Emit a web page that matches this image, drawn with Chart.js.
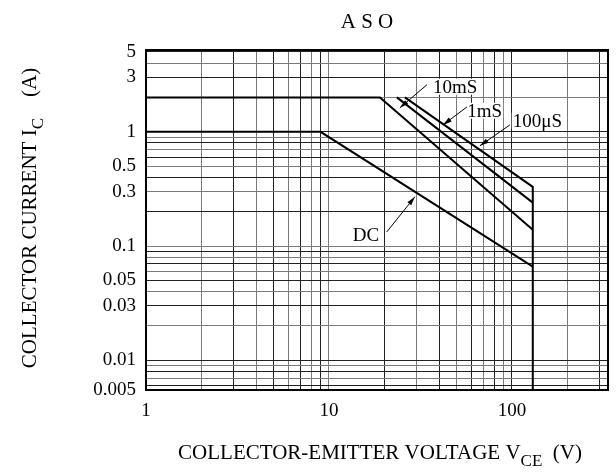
<!DOCTYPE html>
<html>
<head>
<meta charset="utf-8">
<script src="https://cdn.jsdelivr.net/npm/chart.js@4.4.0/dist/chart.umd.min.js"></script>
<style>
  html, body { margin: 0; padding: 0; background: #fff; }
  #wrap { width: 616px; height: 474px; }
</style>
</head>
<body>
<div id="wrap"><canvas id="aso"></canvas></div>
<script>
/* ---- axis grid + tick labels ---- */
var xGrid = [1, 2, 3, 4, 5, 6, 7, 8, 9, 10, 20, 30, 40, 50, 60, 70, 80, 90, 100, 200, 300];
var xLabelValues = [1, 10, 100];
var xLabelText = ['1', '10', '100'];

var yGrid = [5, 4, 3, 2, 1, 0.9, 0.8, 0.7, 0.6, 0.5, 0.4, 0.3, 0.2,
             0.1, 0.09, 0.08, 0.07, 0.06, 0.05, 0.04, 0.03, 0.02,
             0.01, 0.009, 0.008, 0.007, 0.006, 0.005];
var yLabelValues = [5, 3, 1, 0.5, 0.3, 0.1, 0.05, 0.03, 0.01, 0.005];
var yLabelText = ['5', '3', '1', '0.5', '0.3', '0.1', '0.05', '0.03', '0.01', '0.005'];

/* ---- safe operating area curves (V, A) ---- */
var dcV = [1, 9, 130];
var dcI = [1, 1, 0.066];
var ms10V = [1, 19, 130];
var ms10I = [2, 2, 0.139];
var ms1V = [23.5, 130];
var ms1I = [2, 0.24];
var us100V = [26, 130, 130];
var us100I = [2, 0.33, 0.005];

/* ---- curve labels + arrows (data coords) ---- */
var noteText = ['10mS', '1mS', '100\u03bcS', 'DC'];
var noteV = [37, 57, 101, 13.5];
var noteI = [2.48, 1.53, 1.25, 0.1256];
var arrowFromV = [34.3, 56.8, 97.5, 20.7];
var arrowFromI = [2.58, 1.65, 1.15, 0.133];
var arrowToV = [24.4, 42.0, 66.8, 29.5];
var arrowToI = [1.62, 1.15, 0.754, 0.270];

var SERIF = '"Liberation Serif", "Times New Roman", serif';

function pts(vs, is) {
  return vs.map(function(v, i) { return { x: v, y: is[i] }; });
}

function curve(vs, is) {
  return {
    data: pts(vs, is),
    borderColor: '#000',
    borderWidth: 2,
    pointRadius: 0,
    fill: false,
    tension: 0
  };
}

function gridColor(ctx) {
  return ctx.index % 2 ? '#7a7a7a' : '#222';
}

/* draws text runs (main text + subscripts) centred on cx,cy */
function drawRuns(ctx, runs, cx, cy, rot) {
  ctx.save();
  ctx.translate(cx, cy);
  if (rot) ctx.rotate(rot);
  var total = 0;
  runs.forEach(function(r) {
    ctx.font = r[1] + 'px ' + SERIF;
    total += ctx.measureText(r[0]).width;
  });
  var x = -total / 2;
  ctx.textBaseline = 'alphabetic';
  ctx.textAlign = 'left';
  runs.forEach(function(r) {
    ctx.font = r[1] + 'px ' + SERIF;
    ctx.fillText(r[0], x, r[2]);
    x += ctx.measureText(r[0]).width;
  });
  ctx.restore();
}

function arrow(ctx, x1, y1, x2, y2) {
  var ang = Math.atan2(y2 - y1, x2 - x1);
  ctx.beginPath();
  ctx.moveTo(x1, y1);
  ctx.lineTo(x2, y2);
  ctx.lineWidth = 1;
  ctx.stroke();
  ctx.beginPath();
  ctx.moveTo(x2, y2);
  ctx.lineTo(x2 - 9 * Math.cos(ang) + 2.5 * Math.sin(ang), y2 - 9 * Math.sin(ang) - 2.5 * Math.cos(ang));
  ctx.lineTo(x2 - 9 * Math.cos(ang) - 2.5 * Math.sin(ang), y2 - 9 * Math.sin(ang) + 2.5 * Math.cos(ang));
  ctx.closePath();
  ctx.fill();
}

var decor = {
  id: 'decor',
  afterDraw: function(chart) {
    var ctx = chart.ctx, a = chart.chartArea;
    var xs = chart.scales.x, ys = chart.scales.y;
    ctx.save();
    ctx.strokeStyle = '#000';
    ctx.fillStyle = '#000';
    ctx.lineWidth = 2;
    ctx.strokeRect(a.left, a.top, a.right - a.left, a.bottom - a.top);

    /* curve labels */
    ctx.font = '19px ' + SERIF;
    ctx.textBaseline = 'middle';
    ctx.textAlign = 'left';
    noteText.forEach(function(t, i) {
      var px = xs.getPixelForValue(noteV[i]);
      var py = ys.getPixelForValue(noteI[i]);
      ctx.fillStyle = '#fff';
      ctx.fillRect(px - 1, py - 8, ctx.measureText(t).width + 2, 16);
      ctx.fillStyle = '#000';
      ctx.fillText(t, px, py + 1);
    });
    arrowFromV.forEach(function(v, i) {
      arrow(ctx,
        xs.getPixelForValue(v), ys.getPixelForValue(arrowFromI[i]),
        xs.getPixelForValue(arrowToV[i]), ys.getPixelForValue(arrowToI[i]));
    });

    /* titles */
    drawRuns(ctx, [['A S O', 21, 0]], 367, 28, 0);
    drawRuns(ctx, [['COLLECTOR-EMITTER VOLTAGE V', 21, 0], ['CE', 17, 7], ['  (V)', 21, 0]], 380, 459, 0);
    drawRuns(ctx, [['COLLECTOR CURRENT I', 21, 0], ['C', 17, 7], ['    (A)', 21, 0]], 36, 218, -Math.PI / 2);
    ctx.restore();
  }
};

new Chart(document.getElementById('aso'), {
  type: 'line',
  data: {
    datasets: [
      curve(dcV, dcI),
      curve(ms10V, ms10I),
      curve(ms1V, ms1I),
      curve(us100V, us100I)
    ]
  },
  options: {
    responsive: true,
    maintainAspectRatio: false,
    animation: false,
    layout: { padding: { top: 50, right: 8, left: 0, bottom: 0 } },
    plugins: { legend: { display: false }, tooltip: { enabled: false } },
    scales: {
      x: {
        type: 'logarithmic',
        min: 1,
        max: 335,
        afterFit: function(s) { s.height = 84; },
        afterBuildTicks: function(s) {
          s.ticks = xGrid.map(function(v) { return { value: v }; });
        },
        grid: { color: gridColor, lineWidth: 1, drawTicks: false },
        border: { display: true, color: '#000', width: 2 },
        ticks: {
          autoSkip: false,
          maxRotation: 0,
          padding: 10,
          color: '#000',
          font: { family: SERIF, size: 19 },
          callback: function(val, idx) {
            var k = xLabelValues.indexOf(xGrid[idx]);
            return k < 0 ? '' : xLabelText[k];
          }
        }
      },
      y: {
        type: 'logarithmic',
        min: 0.0055,
        max: 5.2,
        afterFit: function(s) { s.width = 146; },
        afterBuildTicks: function(s) {
          s.ticks = yGrid.map(function(v) {
            return { value: Math.min(Math.max(v, s.min), s.max) };
          });
        },
        grid: { color: gridColor, lineWidth: 1, drawTicks: false },
        border: { display: true, color: '#000', width: 2 },
        ticks: {
          autoSkip: false,
          padding: 10,
          color: '#000',
          font: { family: SERIF, size: 19 },
          callback: function(val, idx) {
            var k = yLabelValues.indexOf(yGrid[idx]);
            return k < 0 ? '' : yLabelText[k];
          }
        }
      }
    }
  },
  plugins: [decor]
});
</script>
</body>
</html>
